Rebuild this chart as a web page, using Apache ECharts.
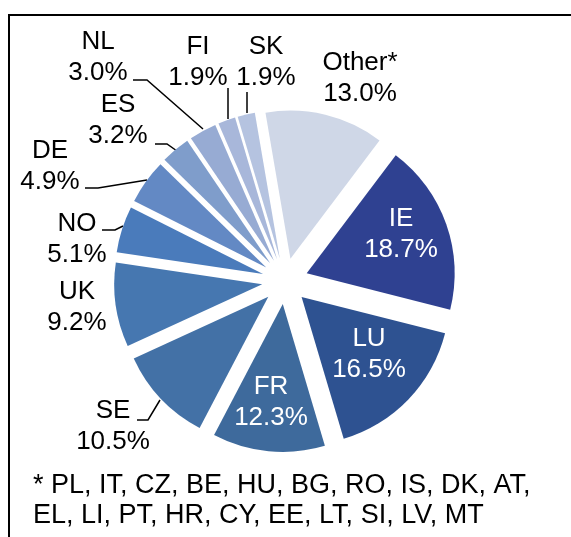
<!DOCTYPE html>
<html>
<head>
<meta charset="utf-8">
<script src="https://cdn.jsdelivr.net/npm/echarts@6/dist/echarts.min.js"></script>
<style>
  html, body { margin: 0; padding: 0; background: #fff; }
  #main { width: 571px; height: 537px; }
</style>
</head>
<body>
<div id="main"></div>
<script>
var chartDom = document.getElementById('main');
var myChart = echarts.init(chartDom);
var option;

// countries, shares (%), slice colours
const countries = ['IE', 'LU', 'FR', 'SE', 'UK', 'NO', 'DE', 'ES', 'NL', 'FI', 'SK', 'Other*'];
const shares = [18.7, 16.5, 12.3, 10.5, 9.2, 5.1, 4.9, 3.2, 3.0, 1.9, 1.9, 13.0];
const sliceColors = ['#2f4191', '#2e5291', '#3e6a9c', '#4371a6', '#4677b0', '#4a7bbb',
  '#6389c4', '#7f9dcb', '#97abd3', '#a8b7da', '#b5c3e0', '#cfd7e7'];
const insideLabels = ['IE', 'LU', 'FR'];
const footnote = '* PL, IT, CZ, BE, HU, BG, RO, IS, DK, AT,\nEL, LI, PT, HR, CY, EE, LT, SI, LV, MT';

// where each label sits (text centre) and its leader line, Excel style
const labelPlaces = {
  'IE': { at: [401, 234] },
  'LU': { at: [369, 354] },
  'FR': { at: [271, 402] },
  'SE': { at: [113, 426], line: [[137, 420], [148, 420], [160, 400]] },
  'UK': { at: [77, 307] },
  'NO': { at: [77, 239], line: [[102, 230], [115, 230], [123, 226]] },
  'DE': { at: [50, 166], line: [[85, 188], [98, 188], [147, 180]] },
  'ES': { at: [118, 120], line: [[155, 144], [167, 144], [177, 151]] },
  'NL': { at: [98, 57], line: [[133, 80], [147, 80], [203, 129]] },
  'FI': { at: [198, 62], line: [[228, 88], [228, 100], [228, 119]] },
  'SK': { at: [266, 62], line: [[247, 92], [247, 102], [247, 113]] },
  'Other*': { at: [360, 78] }
};

const pieCenter = [285, 281];
const pieRadius = 148;

// exploded slices
const sliceData = countries.map(function (name, i) {
  return {
    name: name,
    value: shares[i],
    selected: true,
    itemStyle: { color: sliceColors[i] }
  };
});

// same values again, invisible, only carrying the labels
const labelData = countries.map(function (name, i) {
  const inside = insideLabels.indexOf(name) >= 0;
  return {
    name: name,
    value: shares[i],
    label: { color: inside ? '#ffffff' : '#000000' },
    labelLine: { show: !!labelPlaces[name].line }
  };
});

option = {
  animation: false,
  graphic: [
    {
      type: 'rect',
      shape: { x: 9, y: 15, width: 700, height: 700 },
      style: { fill: 'none', stroke: '#000', lineWidth: 2 },
      silent: true
    },
    {
      type: 'text',
      left: 33,
      top: 471,
      style: {
        text: footnote,
        fill: '#000',
        font: '27px "Liberation Sans", Arial, sans-serif',
        lineHeight: 30
      }
    }
  ],
  series: [
    {
      type: 'pie',
      center: pieCenter,
      radius: pieRadius,
      startAngle: 53,
      clockwise: true,
      selectedMode: 'multiple',
      selectedOffset: 23,
      emphasis: { disabled: true },
      label: { show: false },
      labelLine: { show: false },
      data: sliceData
    },
    {
      type: 'pie',
      center: pieCenter,
      radius: pieRadius,
      startAngle: 53,
      clockwise: true,
      silent: true,
      avoidLabelOverlap: false,
      emphasis: { disabled: true },
      itemStyle: { color: 'rgba(0,0,0,0)' },
      data: labelData,
      label: {
        show: true,
        position: 'outside',
        formatter: function (p) {
          return p.name + '\n' + p.value.toFixed(1) + '%';
        },
        fontFamily: '"Liberation Sans", Arial, sans-serif',
        fontSize: 26,
        lineHeight: 31,
        align: 'center'
      },
      labelLine: {
        show: true,
        lineStyle: { color: '#000', width: 1.5 }
      },
      labelLayout: function (params) {
        const place = labelPlaces[countries[params.dataIndex]];
        const res = {
          x: place.at[0],
          y: place.at[1],
          align: 'center',
          verticalAlign: 'middle'
        };
        if (place.line) {
          res.labelLinePoints = place.line;
        }
        return res;
      }
    }
  ]
};

option && myChart.setOption(option);
</script>
</body>
</html>
